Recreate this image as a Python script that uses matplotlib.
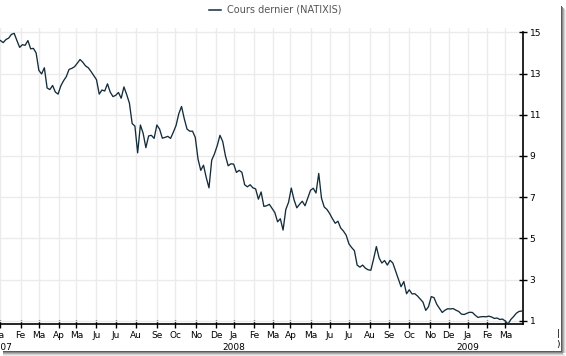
import numpy as np
import pandas as pd
import matplotlib
matplotlib.use('Agg')
import matplotlib.pyplot as plt
from matplotlib.lines import Line2D
from matplotlib.patches import Rectangle

# jours fériés Euronext sur la période
holidays = ['2007-01-01', '2007-04-06', '2007-04-09', '2007-05-01', '2007-12-25', '2007-12-26',
            '2008-01-01', '2008-03-21', '2008-03-24', '2008-05-01', '2008-12-25', '2008-12-26',
            '2009-01-01']
month_names = ['Ja', 'Fe', 'Ma', 'Ap', 'Ma', 'Ju', 'Ju', 'Au', 'Se', 'Oc', 'No', 'De']
years = ['2007', '2008', '2009']
yticks = [1, 3, 5, 7, 9, 11, 13, 15]

# cours dernier NATIXIS, un relevé tous les 3 jours de bourse depuis le 2 janvier 2007
price = [
    14.6, 14.5, 14.65, 14.72, 14.9, 14.95, 14.6, 14.27, 14.4, 14.37,
    14.6, 14.2, 14.22, 14.0, 13.15, 12.98, 13.28, 12.3, 12.22, 12.42,
    12.1, 12.0, 12.4, 12.65, 12.85, 13.2, 13.25, 13.33, 13.5, 13.68,
    13.55, 13.37, 13.28, 13.1, 12.9, 12.7, 12.0, 12.2, 12.15, 12.5,
    12.1, 11.88, 11.94, 12.08, 11.8, 12.35, 11.98, 11.56, 10.57, 10.45,
    9.15, 10.5, 10.1, 9.4, 9.97, 10.0, 9.85, 10.5, 10.3, 9.86,
    9.9, 9.95, 9.85, 10.15, 10.48, 11.05, 11.4, 10.8, 10.3, 10.2,
    10.2, 9.9, 8.85, 8.3, 8.55, 7.95, 7.45, 8.8, 9.1, 9.5,
    10.0, 9.7, 9.0, 8.52, 8.62, 8.6, 8.2, 8.3, 8.2, 7.6,
    7.5, 7.6, 7.45, 7.4, 6.9, 7.25, 6.55, 6.58, 6.65, 6.45,
    6.25, 5.8, 5.95, 5.4, 6.4, 6.75, 7.44, 6.87, 6.48, 6.65,
    6.8, 6.58, 6.95, 7.33, 7.43, 7.2, 8.15, 6.95, 6.52, 6.4,
    6.2, 5.95, 5.73, 5.83, 5.5, 5.35, 5.15, 4.73, 4.55, 4.4,
    3.7, 3.6, 3.7, 3.55, 3.47, 3.45, 4.0, 4.6, 4.05, 3.8,
    3.92, 3.7, 3.93, 3.8, 3.42, 3.05, 2.65, 2.9, 2.31, 2.5,
    2.3, 2.31, 2.2, 2.05, 1.9, 1.5, 1.68, 2.17, 2.12, 1.8,
    1.6, 1.4, 1.51, 1.58, 1.57, 1.59, 1.51, 1.45, 1.32, 1.3,
    1.36, 1.41, 1.4, 1.27, 1.16, 1.19, 1.2, 1.19, 1.22, 1.18,
    1.11, 1.13, 1.06, 1.08, 0.98, 0.84, 1.06, 1.2, 1.36, 1.45,
    1.47,
]

tdays = pd.bdate_range('2007-01-02', '2009-03-31', freq='C', holidays=holidays)
x = np.arange(len(price)) * 3

month_starts = pd.date_range('2007-01-01', '2009-03-01', freq='MS')
month_pos = tdays.searchsorted(month_starts)
month_lab = [month_names[m.month - 1] for m in month_starts]

W, H = 566, 356
fig = plt.figure(figsize=(W / 100, H / 100), dpi=100)
ax = fig.add_axes([0, 32 / H, 522.7 / W, 295.8 / H])

ax.plot(x, price, color='#142c3a', lw=0.95, clip_on=False, zorder=3)

ax.set_xlim(-0.5, 571)
ax.set_ylim(0.84, 15.2)
ax.set_xticks(month_pos)
ax.set_xticklabels(month_lab)
ax.yaxis.tick_right()
ax.set_yticks(yticks)

for s in ['top', 'left']:
    ax.spines[s].set_visible(False)
ax.spines['right'].set_bounds(0.84, 15)
ax.spines['right'].set_linewidth(1.2)
ax.spines['bottom'].set_linewidth(1.2)

ax.grid(True, color='#ebebeb', lw=1)
ax.set_axisbelow(True)
ax.tick_params(axis='both', direction='inout', length=6, width=1, labelsize=6.5, pad=2)

jan_pos = [month_pos[i] for i, m in enumerate(month_starts) if m.month == 1]
for p, yr in zip(jan_pos, years):
    ax.text(p, -23 / 295.8, yr, transform=ax.get_xaxis_transform(),
            ha='center', va='center', fontsize=6.5, clip_on=False)

# légende en haut
handle = Line2D([], [], color='#142c3a', lw=1.1)
fig.legend(handles=[handle], labels=['Cours dernier (NATIXIS)'], loc='center',
           bbox_to_anchor=(275 / W, 1 - 10 / H), frameon=False, fontsize=7,
           handlelength=1.2, handletextpad=0.6, labelcolor='#555555')

# bouts de libellés coupés à droite
fig.text(558 / W, 1 - 333 / H, '|', fontsize=6.5, ha='center', va='center')
fig.text(558 / W, 1 - 344 / H, ')', fontsize=6.5, ha='center', va='center')

# ombre du cadre de la capture
shades = ['#5a5a5a', '#8a8a8a', '#b0b0b0', '#d2d2d2', '#ececec']
for i, c in enumerate(shades):
    fig.add_artist(Rectangle(((561 + i) / W, 3 / H), 1 / W, (350 - 3 - i) / H,
                             transform=fig.transFigure, color=c, lw=0))
    fig.add_artist(Rectangle((3 / W, (5 - i - 1) / H), (561 + i - 3) / W, 1 / H,
                             transform=fig.transFigure, color=c, lw=0))

fig.savefig('out.png', dpi=100)
